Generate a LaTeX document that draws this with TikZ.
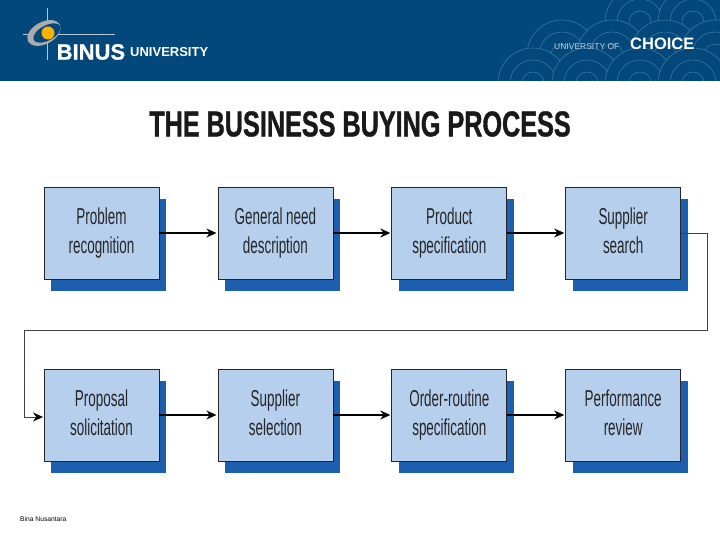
\documentclass[tikz,border=0pt]{standalone}
\usepackage{xcolor}
\usepackage{fontspec}
\usepackage{tikz}
\usetikzlibrary{positioning, arrows.meta, shadows}
\setmainfont{Liberation Sans}
\newfontfamily\narrowfont[FakeStretch=0.585]{Liberation Sans}
\newfontfamily\titlefont[FakeStretch=0.7,FakeBold=1]{Liberation Sans Bold}
\newfontfamily\logofont[FakeBold=1]{Liberation Sans Bold}
\definecolor{headerblue}{HTML}{03487A}
\definecolor{arcblue}{HTML}{3A779F}
\definecolor{boxblue}{HTML}{B5CFED}
\definecolor{backblue}{HTML}{1C5FAE}

\begin{document}
\begin{tikzpicture}[
    x=1pt, y=-1pt,
    node distance=90pt and 58.9pt,
    stepbox/.style={rectangle, draw=black!85, line width=0.8pt, fill=boxblue, outer sep=0pt, minimum height=92pt, minimum width=115pt, align=center, text=black!85,
        font=\narrowfont\fontsize{23}{29}\selectfont,
        execute at begin node={\rule{0pt}{19pt}}, execute at end node={\rule[-5pt]{0pt}{1pt}},
        copy shadow={shadow xshift=7pt, shadow yshift=-12pt, fill=backblue, draw=none}},
    arrow/.style={-{Stealth[length=10pt, width=9pt, black]}, line width=1.1pt, black, shorten >=1.5pt},
    loopline/.style={arrow, draw=black!75, line width=0.9pt, shorten >=1pt},
    arch/.style={draw=arcblue, line width=0.6pt, fill=headerblue}
]
\useasboundingbox (0,0) rectangle (720,540);

% header band
\fill[headerblue] (0,0) rectangle (720,81);
\begin{scope}
\clip (490,0) rectangle (720,81);
\foreach \rowy/\xlist in {22/{640,693}, 55/{562,612,665,715}, 83/{533,587,640,693}} {
    \foreach \cx in \xlist {
        \foreach \rad in {35,23,11} {
            \draw[arch] (\cx,\rowy) circle[radius=\rad];
        }
    }
}
\end{scope}

% logo
\draw[white!70!headerblue, line width=0.6pt] (47,8) -- (47,60);
\draw[white!70!headerblue, line width=0.6pt] (23,34) -- (115,34);
\fill[gray!65, rotate around={28:(44,33)}] (44,33) ellipse[x radius=18, y radius=11];
\fill[headerblue, rotate around={28:(47,33)}] (47,33) ellipse[x radius=15, y radius=7.5];
\fill[orange!60!yellow] (48,33) circle[radius=6.5];

\node[anchor=west, inner sep=0pt, text=white, font=\logofont\fontsize{22}{22}\selectfont] (binus) at (56.5,52) {BINUS};
\node[anchor=west, inner sep=0pt, text=white, font=\bfseries\fontsize{13}{13}\selectfont] (univ) at (130,52) {UNIVERSITY};
\node[anchor=west, inner sep=0pt, text=white!75!headerblue, font=\fontsize{8.5}{9}\selectfont] (uof) at (554,47) {UNIVERSITY OF};
\node[anchor=west, inner sep=0pt, text=white, font=\bfseries\fontsize{16.5}{17}\selectfont] (choice) at (630,44) {CHOICE};

\node[inner sep=0pt, text=black!90, font=\titlefont\fontsize{36}{36}\selectfont] (title) at (360,124) {THE BUSINESS BUYING PROCESS};

% upper row
\node[stepbox] (problem) at (101.5,233) {Problem\\ recognition};
\node[stepbox, right=of problem] (need) {General need\\ description};
\node[stepbox, right=of need] (spec) {Product\\ specification};
\node[stepbox, right=of spec] (search) {Supplier\\ search};

% lower row
\node[stepbox, below=of problem] (proposal) {Proposal\\ solicitation};
\node[stepbox, right=of proposal] (selection) {Supplier\\ selection};
\node[stepbox, right=of selection] (order) {Order-routine\\ specification};
\node[stepbox, right=of order] (review) {Performance\\ review};

\coordinate (turnright) at (707,330);
\coordinate (turnleft) at (24,330);

\draw[arrow] (problem) -- (need);
\draw[arrow] (need) -- (spec);
\draw[arrow] (spec) -- (search);
\draw[loopline] (search.east) -| (turnright) -- (turnleft) |- ([yshift=-2pt]proposal.west);
\draw[arrow] (proposal) -- (selection);
\draw[arrow] (selection) -- (order);
\draw[arrow] (order) -- (review);

\node[anchor=west, inner sep=0pt, font=\fontsize{6.7}{8}\selectfont] (footer) at (20,519) {Bina Nusantara};
\end{tikzpicture}
\end{document}
